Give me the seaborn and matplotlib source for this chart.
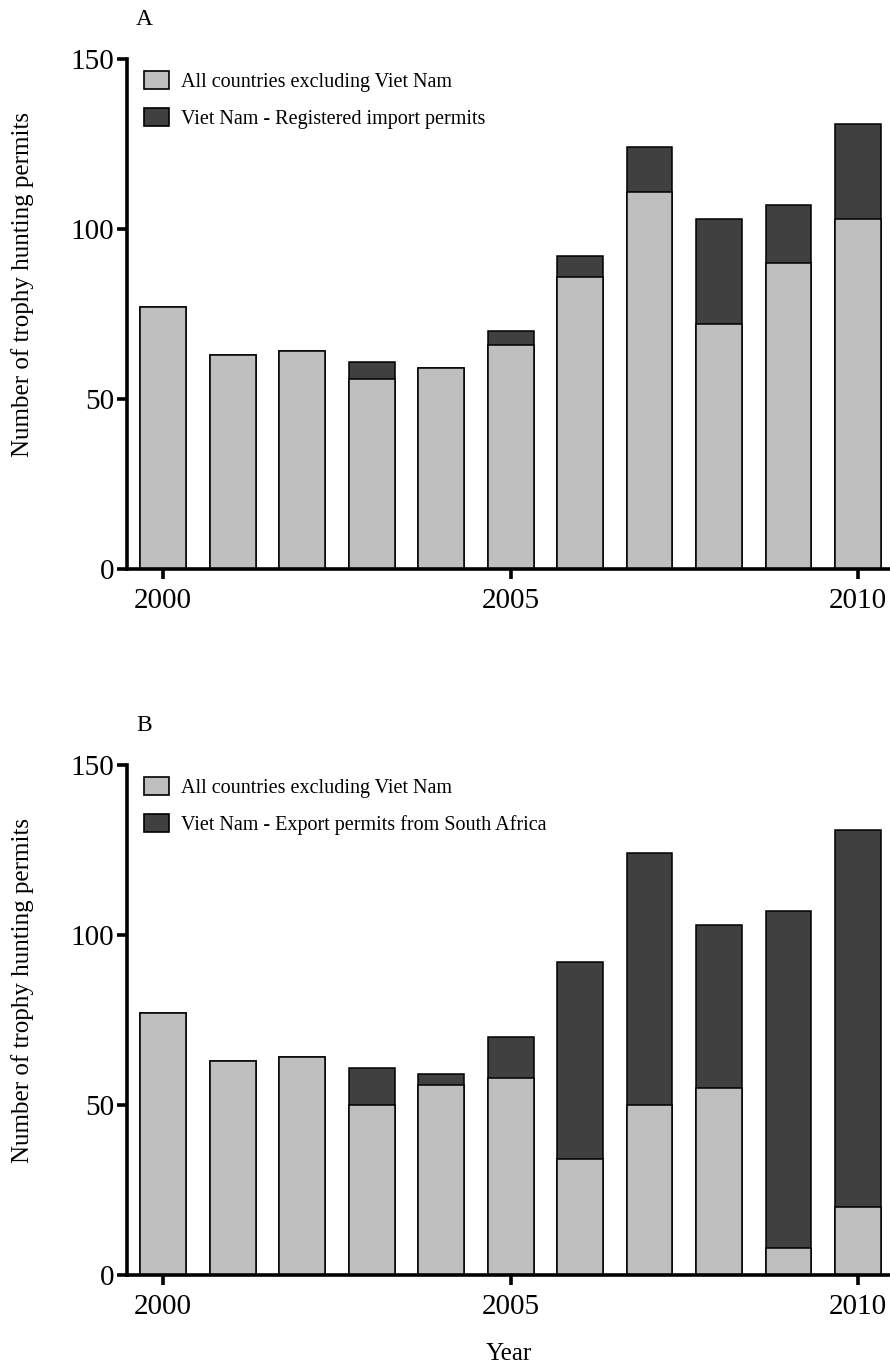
import numpy as np
import pandas as pd
import matplotlib
matplotlib.use("Agg")
import matplotlib.pyplot as plt
import seaborn as sns
from matplotlib.patches import Patch

years = [2000, 2001, 2002, 2003, 2004, 2005, 2006, 2007, 2008, 2009, 2010]

# Panel A - registered import permits
a_other = [77, 63, 64, 56, 59, 66, 86, 111, 72, 90, 103]
a_total = [77, 63, 64, 61, 59, 70, 92, 124, 103, 107, 131]

# Panel B - export permits from South Africa
b_other = [77, 63, 64, 50, 56, 58, 34, 50, 55, 8, 20]
b_total = [77, 63, 64, 61, 59, 70, 92, 124, 103, 107, 131]

labels_a = ["All countries excluding Viet Nam", "Viet Nam - Registered import permits"]
labels_b = ["All countries excluding Viet Nam", "Viet Nam - Export permits from South Africa"]

light = "#bfbfbf"
dark = "#404040"

sns.set_style("ticks")
plt.rcParams['font.family'] = ['Liberation Serif', 'DejaVu Serif']
plt.rcParams['text.color'] = 'black'
plt.rcParams['axes.labelcolor'] = 'black'
plt.rcParams['xtick.color'] = 'black'
plt.rcParams['ytick.color'] = 'black'
plt.rcParams['axes.edgecolor'] = 'black'

fig = plt.figure(figsize=(8.9, 13.63), dpi=100)
ax_a = fig.add_axes([0.1427, 0.5825, 0.8573, 0.3742])
ax_b = fig.add_axes([0.1427, 0.0646, 0.8573, 0.3742])


def panel(ax, other, total, labels, letter, xlabel):
    df = pd.DataFrame({"year": years, "other": other, "total": total})
    sns.barplot(data=df, x="year", y="total", native_scale=True, width=0.66,
                color=dark, saturation=1, edgecolor="black", linewidth=1.1, ax=ax)
    sns.barplot(data=df, x="year", y="other", native_scale=True, width=0.66,
                color=light, saturation=1, edgecolor="black", linewidth=1.1, ax=ax)
    ax.set_xlim(1999.48, 2010.46)
    ax.set_ylim(0, 150)
    ax.set_yticks([0, 50, 100, 150])
    ax.set_xticks([2000, 2005, 2010])
    sns.despine(ax=ax)
    for s in ["left", "bottom"]:
        ax.spines[s].set_linewidth(2.6)
    ax.tick_params(width=2.6, length=7, labelsize=21)
    ax.tick_params(axis="x", pad=7)
    ax.tick_params(axis="y", pad=2)
    ax.set_ylabel("Number of trophy hunting permits", fontsize=18)
    ax.yaxis.set_label_coords(-0.122, 0.557)
    ax.set_xlabel(xlabel, fontsize=18, labelpad=16)
    handles = [Patch(facecolor=light, edgecolor="black", linewidth=1.2),
               Patch(facecolor=dark, edgecolor="black", linewidth=1.2)]
    ax.legend(handles, labels, loc="upper left", bbox_to_anchor=(-0.002, 1.012), frameon=False,
              fontsize=14.5, handlelength=1.25, handleheight=1.0, handletextpad=0.6,
              labelspacing=0.8)
    ax.text(0.012, 1.078, letter, transform=ax.transAxes, fontsize=17, va="center")


panel(ax_a, a_other, a_total, labels_a, "A", "")
panel(ax_b, b_other, b_total, labels_b, "B", "Year")

fig.savefig("out.png", dpi=100)
